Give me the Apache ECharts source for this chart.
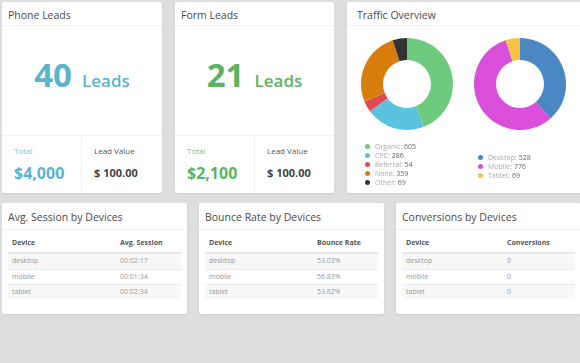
<!DOCTYPE html>
<html><head><meta charset="utf-8">
<script src="https://cdn.jsdelivr.net/npm/echarts@6/dist/echarts.min.js"></script>
<style>
html,body{margin:0;padding:0;width:580px;height:363px;overflow:hidden;background:#dedede;font-family:"Open Sans",sans-serif;}
.card{position:absolute;background:#fff;border-radius:2px;box-shadow:0 1px 2px rgba(0,0,0,.08);overflow:hidden}
.t{position:absolute;white-space:nowrap;}
.hr{position:absolute;height:1px;background:#f0f0f0}
.vr{position:absolute;width:1px;background:#f0f0f0}
</style></head>
<body>
<div id="root"></div>
<script>
// ---- data ----
const leadTitles = ['Phone Leads', 'Form Leads'];
const leadCounts = [40, 21];
const leadTotals = ['$4,000', '$2,100'];
const leadValues = ['$ 100.00', '$ 100.00'];

const sourceNames = ['Organic', 'CPC', 'Referral', 'None', 'Other'];
const sourceValues = [605, 286, 54, 359, 69];
const deviceNames = ['Desktop', 'Mobile', 'Tablet'];
const deviceValues = [528, 776, 69];

const tableTitles = ['Avg. Session by Devices', 'Bounce Rate by Devices', 'Conversions by Devices'];
const tableHeaders = ['Avg. Session', 'Bounce Rate', 'Conversions'];
const tableDevices = ['desktop', 'mobile', 'tablet'];
const avgSession = ['00:02:17', '00:01:34', '00:02:34'];
const bounceRate = ['53.03%', '56.83%', '53.62%'];
const conversions = [0, 0, 0];

// ---- layout helpers ----
const root = document.getElementById('root');
function el(parent, cls, css, html) {
  const d = document.createElement('div');
  if (cls) d.className = cls;
  Object.assign(d.style, css || {});
  if (html !== undefined) d.innerHTML = html;
  parent.appendChild(d);
  return d;
}
function txt(parent, text, x, cy, lh, css) {
  return el(parent, 't', Object.assign({left: x + 'px', top: (cy - lh / 2) + 'px', lineHeight: lh + 'px', height: lh + 'px'}, css || {}), text);
}
const titleCss = {fontSize: '10.5px', color: '#4a4a4a', fontWeight: 400};

// ---- lead cards ----
const leadCards = [{left: 2, width: 160, color: '#5ab4d0'}, {left: 175, width: 159, color: '#5cb460'}];
leadCards.forEach((c, i) => {
  const card = el(root, 'card', {left: c.left + 'px', top: '2px', width: c.width + 'px', height: '191px'});
  txt(card, leadTitles[i], 6, 13, 14, titleCss);
  el(card, 'hr', {left: '0px', top: '23px', width: '100%'});
  el(card, 't', {left: '0px', width: '100%', top: '53px', height: '40px', lineHeight: '40px', textAlign: 'center', color: c.color},
    '<span style="font-size:33px;font-weight:700">' + leadCounts[i] + '</span><span style="font-size:17px;font-weight:600;margin-left:10px">Leads</span>');
  el(card, 'hr', {left: '0px', top: '133px', width: '100%'});
  const mid = Math.round(c.width / 2);
  el(card, 'vr', {left: (mid - 1) + 'px', top: '133px', height: '60px'});
  txt(card, 'Total', 12, 149, 12, {fontSize: '8px', color: c.color, opacity: 0.8});
  txt(card, leadTotals[i], 12, 171, 20, {fontSize: '16px', fontWeight: 700, color: c.color});
  txt(card, 'Lead Value', mid + 12, 149, 12, {fontSize: '8px', color: '#555'});
  txt(card, leadValues[i], mid + 12, 171, 16, {fontSize: '11px', fontWeight: 700, color: '#444'});
});

// ---- traffic card ----
const tcard = el(root, 'card', {left: '347px', top: '2px', width: '236px', height: '191px'});
txt(tcard, 'Traffic Overview', 10, 13, 14, titleCss);
el(tcard, 'hr', {left: '0px', top: '23px', width: '100%'});
const chartDiv = el(tcard, '', {position: 'absolute', left: '0px', top: '0px', width: '236px', height: '191px'});

// ---- table cards ----
const tableValues = [avgSession, bounceRate, conversions];
const tableCards = [{left: 2, col: 112}, {left: 199, col: 112}, {left: 396, col: 105}];
tableCards.forEach((c, i) => {
  const card = el(root, 'card', {left: c.left + 'px', top: '203px', width: '185px', height: '111px'});
  txt(card, tableTitles[i], 6, 14, 14, titleCss);
  el(card, 'hr', {left: '0px', top: '26px', width: '100%'});
  const tbl = el(card, '', {position: 'absolute', left: '6px', top: '31px', width: '173px', height: '66px'});
  txt(tbl, 'Device', 4, 9, 10, {fontSize: '7px', fontWeight: 700, color: '#555'});
  txt(tbl, tableHeaders[i], c.col, 9, 10, {fontSize: '7px', fontWeight: 700, color: '#555'});
  el(tbl, '', {position: 'absolute', left: '0px', top: '18px', width: '100%', height: '2px', background: '#e9e9e9'});
  tableDevices.forEach((d, r) => {
    const top = 20 + r * 15;
    const row = el(tbl, '', {position: 'absolute', left: '0px', top: top + 'px', width: '100%', height: '15px',
      background: r % 2 === 0 ? '#f8f8f8' : '#fff', borderTop: r > 0 ? '1px solid #ececec' : 'none', boxSizing: 'border-box'});
    txt(row, d, 4, 7, 10, {fontSize: '7px', color: '#999'});
    txt(row, String(tableValues[i][r]), c.col, 7, 10, {fontSize: '7px', color: '#999'});
  });
});

// ---- ECharts donuts ----
const sourceColors = ['#6ecb7e', '#5bc2df', '#df4a4f', '#d77d0c', '#333333'];
const deviceColors = ['#4a87c3', '#d94fd9', '#f5c243'];
const chart = echarts.init(chartDiv, null, {renderer: 'canvas'});
function legendFmt(names, values) {
  return function (name) {
    const v = values[names.indexOf(name)];
    return '{a|' + name + ':} {b|' + v + '}';
  };
}
const legendText = {fontSize: 7, fontFamily: 'Open Sans', lineHeight: 9,
  rich: {a: {color: '#aaa', fontSize: 7, fontFamily: 'Open Sans'}, b: {color: '#666', fontSize: 7, fontFamily: 'Open Sans'}}};
chart.setOption({
  animation: false,
  color: sourceColors.concat(deviceColors),
  legend: [
    {data: sourceNames, orient: 'vertical', left: 18, top: 140, height: 50, padding: 0, itemWidth: 5, itemHeight: 5, itemGap: 0,
      icon: 'circle', selectedMode: false, formatter: legendFmt(sourceNames, sourceValues), textStyle: legendText},
    {data: deviceNames, orient: 'vertical', left: 131, top: 151, height: 30, padding: 0, itemWidth: 5, itemHeight: 5, itemGap: 0,
      icon: 'circle', selectedMode: false, formatter: legendFmt(deviceNames, deviceValues), textStyle: legendText}
  ],
  series: [
    {type: 'pie', center: [60, 82], radius: [24, 46], label: {show: false}, labelLine: {show: false},
      emphasis: {disabled: true}, silent: true,
      data: sourceNames.map((n, i) => ({name: n, value: sourceValues[i], itemStyle: {color: sourceColors[i]}}))},
    {type: 'pie', center: [173, 82], radius: [24, 46], label: {show: false}, labelLine: {show: false},
      emphasis: {disabled: true}, silent: true,
      data: deviceNames.map((n, i) => ({name: n, value: deviceValues[i], itemStyle: {color: deviceColors[i]}}))}
  ]
});
</script>
</body></html>
